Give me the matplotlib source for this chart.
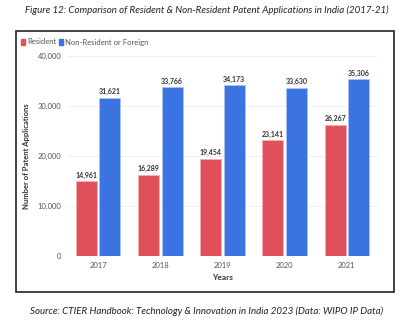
import matplotlib
matplotlib.use("Agg")
import matplotlib.pyplot as plt
from matplotlib.patches import Rectangle
import numpy as np

years = ["2017", "2018", "2019", "2020", "2021"]
resident = [14961, 16289, 19454, 23141, 26267]
non_resident = [31621, 33766, 34173, 33630, 35306]
yticks = [0, 10000, 20000, 30000, 40000]

W, H = 413, 324
fig = plt.figure(figsize=(W/100, H/100), dpi=100)
plt.rcParams['font.family'] = ['Lato', 'DejaVu Sans']

def fx(px): return px / W
def fy(py): return 1 - py / H

ax = fig.add_axes([fx(67), fy(256), fx(378) - fx(67), fy(56) - fy(256)])

red = '#e0505a'
blue = '#3b74e0'
x = np.arange(len(years))
bw = 0.34
off = 0.19
rb = ax.bar(x - off, resident, bw, color=red, edgecolor='#f4b0b4', linewidth=0.6, zorder=3)
bb = ax.bar(x + off, non_resident, bw, color=blue, edgecolor='#a8c4f4', linewidth=0.6, zorder=3)
for rects, vals in ((rb, resident), (bb, non_resident)):
    for r, v in zip(rects, vals):
        ax.text(r.get_x() + r.get_width()/2, v + 500, f"{v:,}", ha='center', va='bottom',
                fontsize=5, fontweight='bold', color='#333333')

ax.set_xlim(-0.5, 4.5)
ax.set_ylim(0, 40000)
ax.set_yticks(yticks)
ax.set_yticklabels([f"{t:,}" for t in yticks])
ax.set_xticks(x)
ax.set_xticklabels(years)
ax.tick_params(axis='both', length=0, labelsize=5.5, colors='#555555')
ax.tick_params(axis='y', pad=4)
ax.tick_params(axis='x', pad=4)
ax.grid(axis='y', color='#eeeeee', linewidth=0.6, zorder=0)
for s in ax.spines.values():
    s.set_visible(False)
ax.axhline(0, color='#e6e6e6', linewidth=0.6, zorder=1)
ax.set_ylabel("Number of Patent Applications", fontsize=5.5, fontweight='bold', color='#333333')
ax.yaxis.set_label_coords((30 - 67) / (378 - 67), 0.5)
ax.set_xlabel("Years", fontsize=6, fontweight='bold', color='#333333', labelpad=4)

# legend
fig.patches.append(Rectangle((fx(21), fy(45)), fx(4), fy(39) - fy(45), transform=fig.transFigure,
                             color=red, zorder=5))
fig.text(fx(27), fy(42), "Resident", fontsize=5.5, color='#555555', va='center')
fig.patches.append(Rectangle((fx(59), fy(45)), fx(4), fy(39) - fy(45), transform=fig.transFigure,
                             color=blue, zorder=5))
fig.text(fx(65), fy(42), "Non-Resident or Foreign", fontsize=5.5, color='#555555', va='center')

# frame
fig.patches.append(Rectangle((fx(16), fy(292)), fx(394) - fx(16), fy(31) - fy(292),
                             transform=fig.transFigure, fill=False, edgecolor='#222222', linewidth=1.2))

fig.text(0.5, fy(10), "Figure 12: Comparison of Resident & Non-Resident Patent Applications in India (2017-21)",
         ha='center', va='center', fontsize=7, style='italic', color='#222222')
fig.text(0.5, fy(311), "Source: CTIER Handbook: Technology & Innovation in India 2023 (Data: WIPO IP Data)",
         ha='center', va='center', fontsize=7, style='italic', color='#222222')

fig.savefig("out.png", dpi=100)
